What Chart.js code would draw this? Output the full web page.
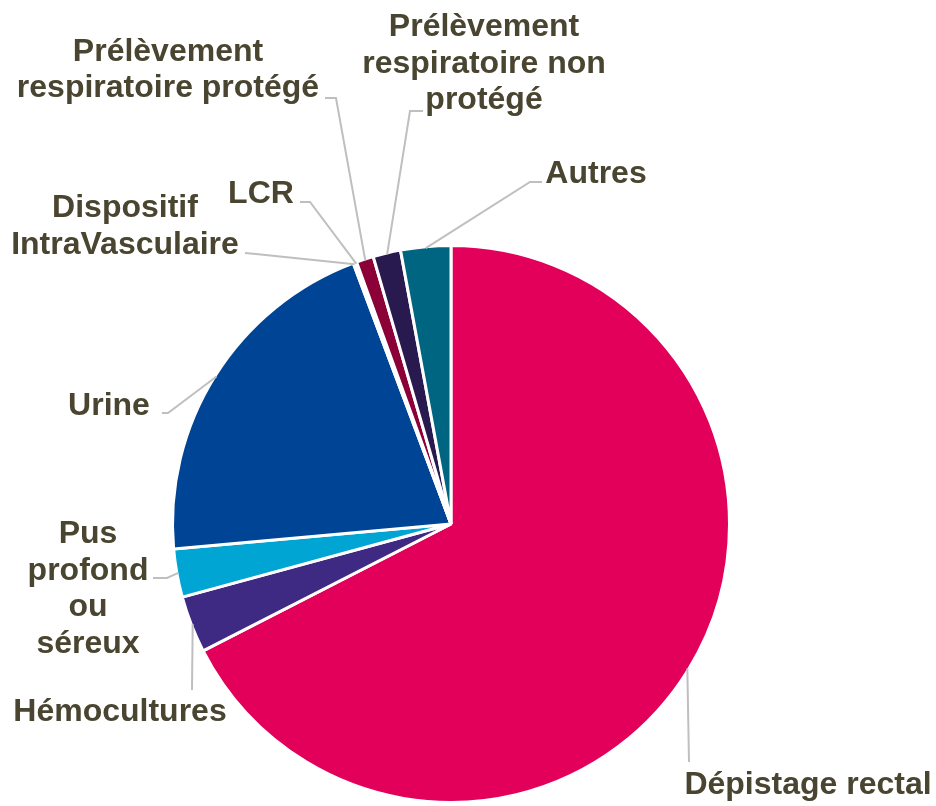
<!DOCTYPE html>
<html>
<head>
<meta charset="utf-8">
<script src="https://cdn.jsdelivr.net/npm/chart.js@4.4.1/dist/chart.umd.min.js"></script>
<style>
  html, body { margin: 0; padding: 0; background: #ffffff; }
  #wrap { width: 936px; height: 806px; }
</style>
</head>
<body>
<div id="wrap"><canvas id="c" width="936" height="806"></canvas></div>
<script>
// ---- Data ----
const categories = [
  'Dépistage rectal',
  'Hémocultures',
  'Pus profond ou séreux',
  'Urine',
  'Dispositif IntraVasculaire',
  'LCR',
  'Prélèvement respiratoire protégé',
  'Prélèvement respiratoire non protégé',
  'Autres'
];
const shares = [67.4, 3.3, 2.8, 20.7, 0.1, 0.1, 1.0, 1.6, 2.9];

// label text as displayed (line breaks)
const labelLines = [
  ['Dépistage rectal'],
  ['Hémocultures'],
  ['Pus', 'profond', 'ou', 'séreux'],
  ['Urine'],
  ['Dispositif', 'IntraVasculaire'],
  ['LCR'],
  ['Prélèvement', 'respiratoire protégé'],
  ['Prélèvement', 'respiratoire non', 'protégé'],
  ['Autres']
];

// ---- Styles / layout ----
const sliceColors = ['#E2005A', '#3E2A82', '#00A5D4', '#004595', '#7F7F7F', '#A6A6A6', '#8A0037', '#28194F', '#006580'];
const textColor = '#4A4530';
const leaderColor = '#BFBFBF';
const fontSpec = 'bold 32px "Liberation Sans", Arial, sans-serif';
// text centre x and baselines of each label
const labelPos = [
  {cx: 808, ys: [794]},
  {cx: 120, ys: [721]},
  {cx: 88,  ys: [543, 580, 616, 653]},
  {cx: 109, ys: [415]},
  {cx: 125, ys: [217, 254]},
  {cx: 261, ys: [203]},
  {cx: 168, ys: [61, 97]},
  {cx: 484, ys: [36, 73, 109]},
  {cx: 596, ys: [183]}
];
// leader line points on the label side (final point is the slice's outer mid-point)
const leaderPts = [
  [[689, 762]],
  [[192, 690]],
  [[153, 578], [167, 578]],
  [[162, 413], [168, 413]],
  [[245, 253], [256, 254]],
  [[300, 202], [310, 202]],
  [[325, 98], [336, 98]],
  [[423, 111], [410, 111]],
  [[542, 182], [530, 182]]
];

const labelPlugin = {
  id: 'outsideLabels',
  afterDraw(chart) {
    const ctx = chart.ctx;
    const arcs = chart.getDatasetMeta(0).data;
    ctx.save();
    // leader lines
    ctx.strokeStyle = leaderColor;
    ctx.lineWidth = 2;
    arcs.forEach((arc, i) => {
      const p = arc.getProps(['x', 'y', 'startAngle', 'endAngle', 'outerRadius'], true);
      const mid = (p.startAngle + p.endAngle) / 2;
      const r = p.outerRadius - 1.5;
      const ex = p.x + Math.cos(mid) * r;
      const ey = p.y + Math.sin(mid) * r;
      const pts = leaderPts[i];
      ctx.beginPath();
      ctx.moveTo(pts[0][0], pts[0][1]);
      for (let k = 1; k < pts.length; k++) ctx.lineTo(pts[k][0], pts[k][1]);
      ctx.lineTo(ex, ey);
      ctx.stroke();
    });
    // texts
    ctx.fillStyle = textColor;
    ctx.font = fontSpec;
    ctx.textAlign = 'center';
    ctx.textBaseline = 'alphabetic';
    labelLines.forEach((lines, i) => {
      const pos = labelPos[i];
      lines.forEach((t, k) => ctx.fillText(t, pos.cx, pos.ys[k]));
    });
    ctx.restore();
  }
};

new Chart(document.getElementById('c'), {
  type: 'pie',
  data: {
    labels: categories,
    datasets: [{
      data: shares,
      backgroundColor: sliceColors,
      borderColor: '#ffffff',
      borderWidth: 3,
      hoverBorderWidth: 3,
      hoverOffset: 0,
      offset: 0
    }]
  },
  options: {
    responsive: false,
    animation: false,
    layout: { padding: { left: 171, right: 205, top: 244, bottom: 2 } },
    plugins: {
      legend: { display: false },
      tooltip: { enabled: false }
    },
    events: []
  },
  plugins: [labelPlugin]
});
</script>
</body>
</html>
